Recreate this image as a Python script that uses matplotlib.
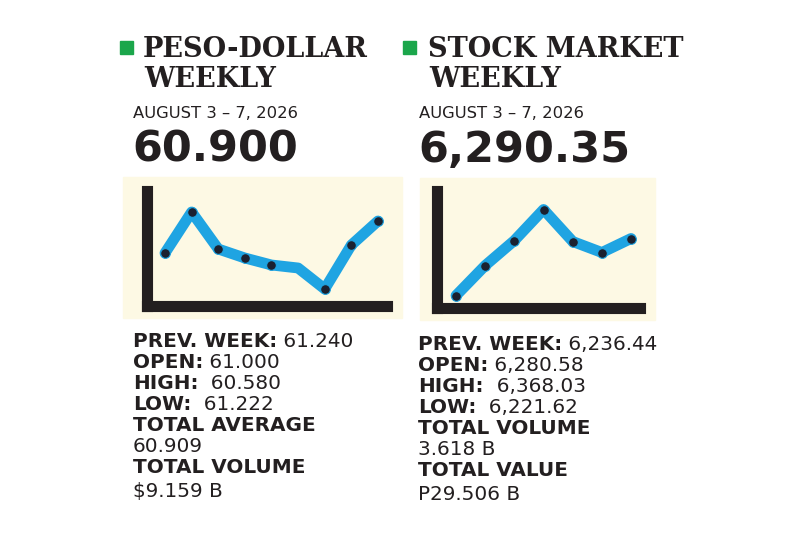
import matplotlib
matplotlib.use("Agg")
import matplotlib.pyplot as plt
from matplotlib.patches import Rectangle

W, H = 800, 533

# ---- data ----
peso_values = [53, 94, 57, 48, 41, 38, 17, 61, 85]
peso_marker_idx = [0, 1, 2, 3, 4, 6, 7, 8]
stock_values = [12, 42, 67, 98, 66, 55, 69]

titles = [["PESO-DOLLAR", "WEEKLY"], ["STOCK MARKET", "WEEKLY"]]
dates = ["AUGUST 3 \u2013 7, 2026", "AUGUST 3 \u2013 7, 2026"]
headlines = ["60.900", "6,290.35"]
peso_rows = [("PREV. WEEK:", " 61.240"), ("OPEN:", " 61.000"), ("HIGH:", "  60.580"),
             ("LOW:", "  61.222"), ("TOTAL AVERAGE", ""), ("", "60.909"),
             ("TOTAL VOLUME", ""), ("", "$9.159 B")]
stock_rows = [("PREV. WEEK:", " 6,236.44"), ("OPEN:", " 6,280.58"), ("HIGH:", "  6,368.03"),
              ("LOW:", "  6,221.62"), ("TOTAL VOLUME", ""), ("", "3.618 B"),
              ("TOTAL VALUE", ""), ("", "P29.506 B")]

GREEN = "#1ba64b"
CREAM = "#fdf9e4"
BLUE = "#1fa4e2"
NAVY = "#1b2130"
INK = "#231f20"
SANS = "DejaVu Sans"

fig = plt.figure(figsize=(W / 100, H / 100), dpi=100)
bg = fig.add_axes([0, 0, 1, 1])
bg.set_xlim(0, W)
bg.set_ylim(H, 0)
bg.axis("off")


def fig_rect(x0, y0, x1, y1):
    return [x0 / W, 1 - y1 / H, (x1 - x0) / W, (y1 - y0) / H]


def draw_header(x_sq, x_txt, x_sub, lines, date, headline):
    bg.add_patch(Rectangle((x_sq, 41), 13, 13, color=GREEN))
    bg.text(x_txt, 57, lines[0], family="DejaVu Serif", weight="bold",
            fontsize=19.5, color=INK, va="baseline")
    bg.text(x_txt + 1, 87, lines[1], family="DejaVu Serif", weight="bold",
            fontsize=19.5, color=INK, va="baseline")
    bg.text(x_sub, 118, date, family=SANS, fontsize=11.8, color=INK, va="baseline")
    bg.text(x_sub - 1, 162, headline, family=SANS, weight="bold",
            fontsize=31, color=INK, va="baseline")


def draw_rows(x, y0, rows):
    for i, (label, value) in enumerate(rows):
        y = y0 + 21 * i + (3 if i == 7 else 0)
        t = bg.text(x, y, label, family=SANS, weight="bold", fontsize=14.4,
                    color=INK, va="baseline")
        if value:
            if label:
                bg.annotate(value, xy=(1, 0), xycoords=t, va="bottom", ha="left",
                            family=SANS, fontsize=14.4, color=INK)
            else:
                bg.text(x, y, value, family=SANS, fontsize=14.4, color=INK,
                        va="baseline")


def draw_chart(cream, box, values, markers, x0_idx, x1_idx, ytop):
    bg.add_patch(Rectangle((cream[0], cream[1]), cream[2] - cream[0],
                           cream[3] - cream[1], color=CREAM, zorder=0))
    ax = fig.add_axes(fig_rect(*box))
    ax.patch.set_alpha(0)
    xs = list(range(len(values)))
    ax.plot(xs, values, color=BLUE, lw=7.8, solid_joinstyle="round",
            solid_capstyle="round", zorder=2)
    ax.plot([xs[i] for i in markers], [values[i] for i in markers], "o",
            color=NAVY, ms=7, mec=BLUE, mew=0.8, zorder=3)
    ax.set_xlim(x0_idx, x1_idx)
    ax.set_ylim(0, ytop)
    ax.set_xticks([])
    ax.set_yticks([])
    for s in ("top", "right"):
        ax.spines[s].set_visible(False)
    for s in ("left", "bottom"):
        ax.spines[s].set_linewidth(8)
        ax.spines[s].set_color(INK)
        ax.spines[s].set_capstyle("projecting")
    return ax


draw_header(120, 143, 133, titles[0], dates[0], headlines[0])
draw_header(403, 428, 419, titles[1], dates[1], headlines[1])

# axes boxes: the L bars are spines, centred on the box edge
draw_chart((123, 177, 402, 318), (146.5, 190.5, 386.5, 306), peso_values,
           peso_marker_idx, -0.695, 8.32, 115.5)
draw_chart((420, 178, 655, 320), (436.5, 190.5, 639.5, 307.5), stock_values,
           range(len(stock_values)), -0.67, 6.29, 117)

draw_rows(133, 347, peso_rows)
draw_rows(418, 350, stock_rows)

fig.savefig("out.png", dpi=100, facecolor="white")
